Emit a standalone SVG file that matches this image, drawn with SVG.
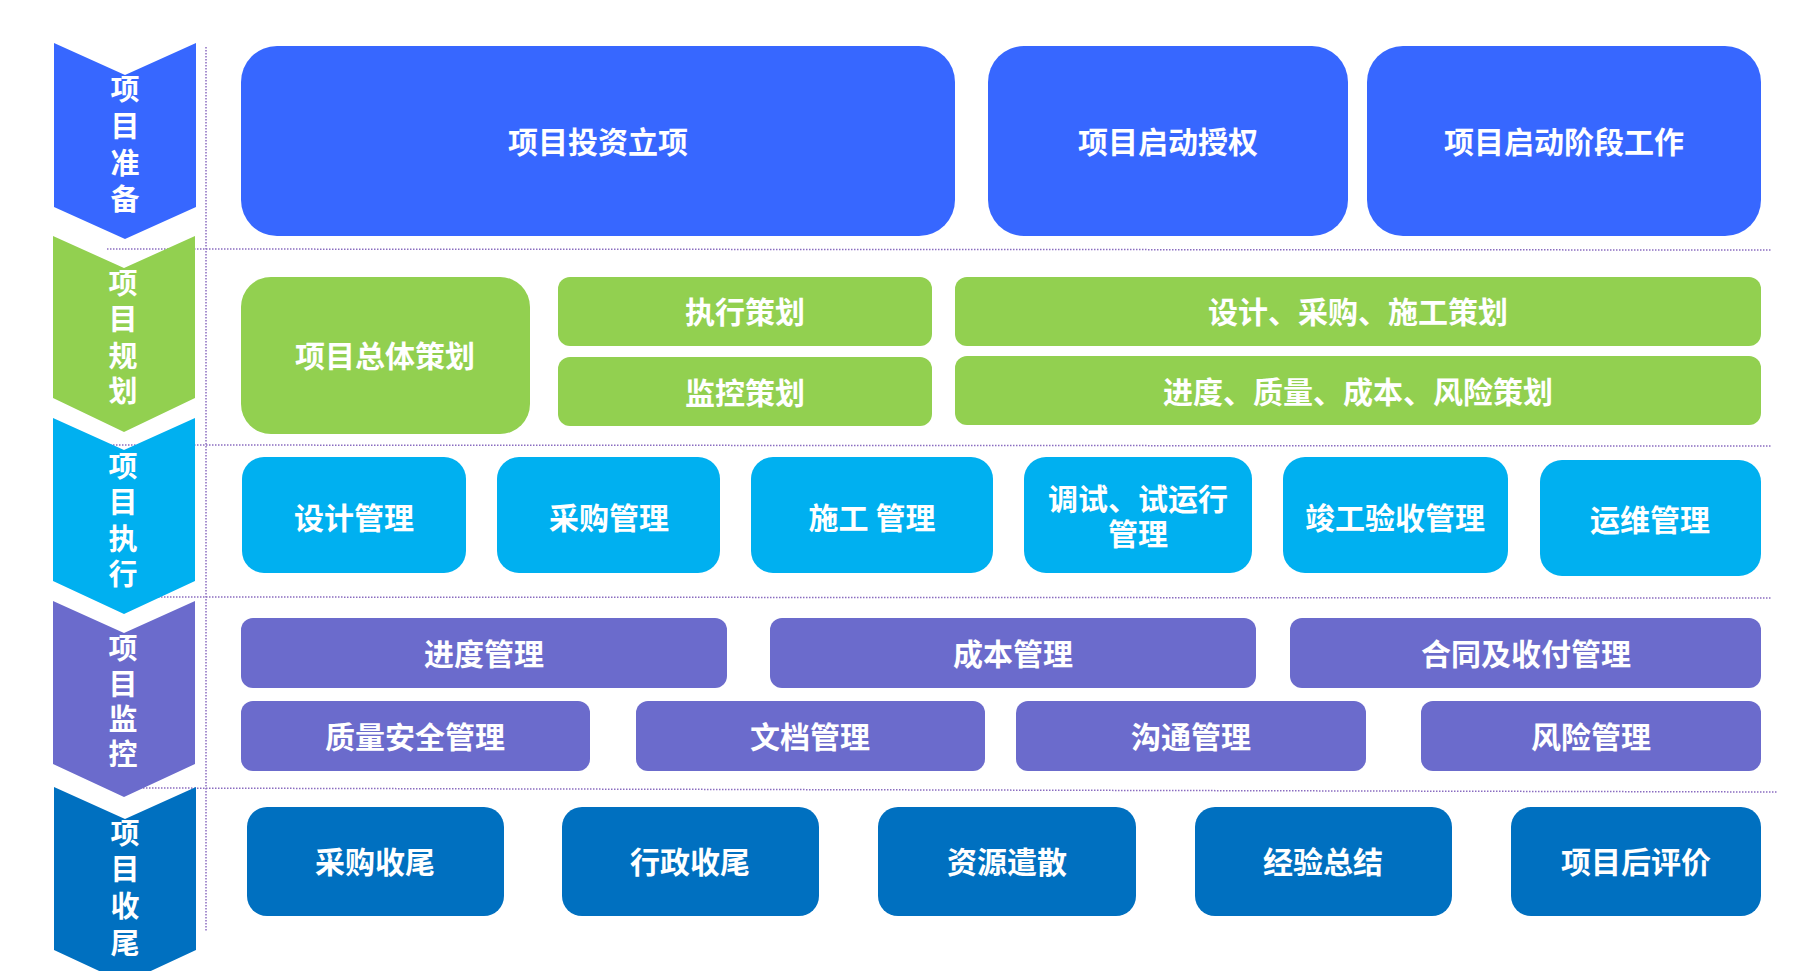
<svg xmlns="http://www.w3.org/2000/svg" width="1807" height="971" viewBox="0 0 1807 971">
<style>
text{font-family:"Noto Sans CJK SC","Liberation Sans",sans-serif;font-weight:700;font-size:30px;fill:#fff;text-anchor:middle;dominant-baseline:central}
text.v{font-size:29px}
.b1{fill:#3767FF}.g{fill:#92D050}.c{fill:#00B0F0}.p{fill:#6B6BCC}.d{fill:#0070C0}
.sep{stroke:#8a6cc0;stroke-width:1.5;stroke-dasharray:1.5 1.5;fill:none}
</style>
<rect width="1807" height="971" fill="#fff"/>
<g id="separators">
<line class="sep" x1="206" y1="47" x2="206" y2="932"/>
<line class="sep" x1="107" y1="249" x2="1771" y2="250"/>
<line class="sep" x1="107" y1="445" x2="1771" y2="446"/>
<line class="sep" x1="140" y1="597" x2="1771" y2="598"/>
<line class="sep" x1="140" y1="788" x2="1778" y2="792"/>
</g>
<g id="phase-prepare">
<path class="b1" d="M54,43 L125,75 L196,43 L196,207 L125,239 L54,207 Z"/>
<text class="v" x="125" y="87"><tspan x="125">项</tspan><tspan x="125" dy="37">目</tspan><tspan x="125" dy="37">准</tspan><tspan x="125" dy="36">备</tspan></text>
</g>
<g id="phase-plan">
<path class="g" d="M53,236 L124,268 L195,236 L195,398 L124,432 L53,398 Z"/>
<text class="v" x="123" y="281"><tspan x="123">项</tspan><tspan x="123" dy="36">目</tspan><tspan x="123" dy="37">规</tspan><tspan x="123" dy="35">划</tspan></text>
</g>
<g id="phase-exec">
<path class="c" d="M53,418 L124,450 L195,418 L195,581 L124,614 L53,581 Z"/>
<text class="v" x="123" y="464"><tspan x="123">项</tspan><tspan x="123" dy="36">目</tspan><tspan x="123" dy="37">执</tspan><tspan x="123" dy="35">行</tspan></text>
</g>
<g id="phase-monitor">
<path class="p" d="M53,601 L124,633 L195,601 L195,764 L124,797 L53,764 Z"/>
<text class="v" x="123" y="646"><tspan x="123">项</tspan><tspan x="123" dy="36">目</tspan><tspan x="123" dy="35">监</tspan><tspan x="123" dy="35">控</tspan></text>
</g>
<g id="phase-close">
<path class="d" d="M54,787 L125,819 L196,787 L196,950 L125,983 L54,950 Z"/>
<text class="v" x="125" y="831"><tspan x="125">项</tspan><tspan x="125" dy="36">目</tspan><tspan x="125" dy="37">收</tspan><tspan x="125" dy="37">尾</tspan></text>
</g>
<g id="n-invest"><rect class="b1" x="241" y="46" width="714" height="190" rx="36"/><text x="598" y="140">项目投资立项</text></g>
<g id="n-auth"><rect class="b1" x="988" y="46" width="360" height="190" rx="36"/><text x="1168" y="140">项目启动授权</text></g>
<g id="n-start"><rect class="b1" x="1367" y="46" width="394" height="190" rx="36"/><text x="1564" y="140">项目启动阶段工作</text></g>

<g id="n-overall"><rect class="g" x="241" y="277" width="289" height="157" rx="30"/><text x="385" y="354">项目总体策划</text></g>
<g id="n-execplan"><rect class="g" x="558" y="277" width="374" height="69" rx="12"/><text x="745" y="310">执行策划</text></g>
<g id="n-monplan"><rect class="g" x="558" y="357" width="374" height="69" rx="12"/><text x="745" y="391">监控策划</text></g>
<g id="n-epc"><rect class="g" x="955" y="277" width="806" height="69" rx="12"/><text x="1358" y="310">设计、采购、施工策划</text></g>
<g id="n-sqcr"><rect class="g" x="955" y="356" width="806" height="69" rx="12"/><text x="1358" y="390">进度、质量、成本、风险策划</text></g>

<g id="n-design"><rect class="c" x="242" y="457" width="224" height="116" rx="22"/><text x="354" y="516">设计管理</text></g>
<g id="n-proc"><rect class="c" x="497" y="457" width="223" height="116" rx="22"/><text x="609" y="516">采购管理</text></g>
<g id="n-constr"><rect class="c" x="751" y="457" width="242" height="116" rx="22"/><text x="872" y="516">施工 管理</text></g>
<g id="n-commis"><rect class="c" x="1024" y="457" width="228" height="116" rx="22"/><text x="1138" y="497"><tspan x="1138">调试、试运行</tspan><tspan x="1138" dy="35">管理</tspan></text></g>
<g id="n-accept"><rect class="c" x="1283" y="457" width="225" height="116" rx="22"/><text x="1395" y="516">竣工验收管理</text></g>
<g id="n-om"><rect class="c" x="1540" y="460" width="221" height="116" rx="22"/><text x="1650" y="518">运维管理</text></g>

<g id="n-sched"><rect class="p" x="241" y="618" width="486" height="70" rx="12"/><text x="484" y="652">进度管理</text></g>
<g id="n-cost"><rect class="p" x="770" y="618" width="486" height="70" rx="12"/><text x="1013" y="652">成本管理</text></g>
<g id="n-contract"><rect class="p" x="1290" y="618" width="471" height="70" rx="12"/><text x="1526" y="652">合同及收付管理</text></g>
<g id="n-quality"><rect class="p" x="241" y="701" width="349" height="70" rx="12"/><text x="415" y="735">质量安全管理</text></g>
<g id="n-doc"><rect class="p" x="636" y="701" width="349" height="70" rx="12"/><text x="810" y="735">文档管理</text></g>
<g id="n-comm"><rect class="p" x="1016" y="701" width="350" height="70" rx="12"/><text x="1191" y="735">沟通管理</text></g>
<g id="n-risk"><rect class="p" x="1421" y="701" width="340" height="70" rx="12"/><text x="1591" y="735">风险管理</text></g>

<g id="n-procclose"><rect class="d" x="247" y="807" width="257" height="109" rx="20"/><text x="375" y="860">采购收尾</text></g>
<g id="n-adminclose"><rect class="d" x="562" y="807" width="257" height="109" rx="20"/><text x="690" y="860">行政收尾</text></g>
<g id="n-release"><rect class="d" x="878" y="807" width="258" height="109" rx="20"/><text x="1007" y="860">资源遣散</text></g>
<g id="n-lessons"><rect class="d" x="1195" y="807" width="257" height="109" rx="20"/><text x="1323" y="860">经验总结</text></g>
<g id="n-post"><rect class="d" x="1511" y="807" width="250" height="109" rx="20"/><text x="1636" y="860">项目后评价</text></g>
</svg>
